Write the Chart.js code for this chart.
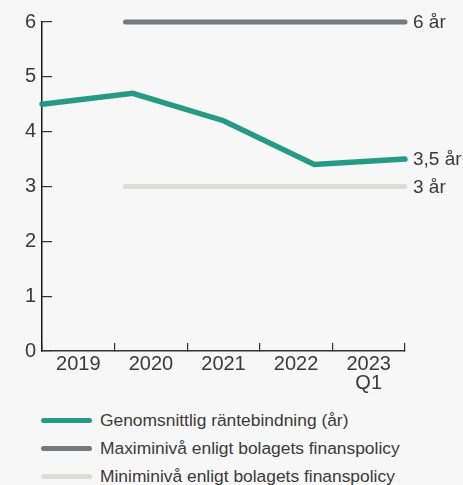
<!DOCTYPE html>
<html lang="sv">
<head>
<meta charset="utf-8">
<title>Genomsnittlig räntebindning</title>
<script src="https://cdn.jsdelivr.net/npm/chart.js@4"></script>
<style>
  body { margin: 0; background: #f7f7f7; font-family: "Liberation Sans", Arial, sans-serif; }
  #wrap { width: 463px; height: 485px; position: relative; }
  canvas { display: block; }
  #legend { position: absolute; left: 41px; top: 406px; margin: 0; padding: 0; list-style: none; }
  #legend li { height: 28px; display: flex; align-items: center; font-size: 17.4px; color: #3a3a3a; }
  #legend li span.sw { width: 51px; height: 5px; border-radius: 3px; margin-right: 8px; }
</style>
</head>
<body>
<div id="wrap">
  <canvas id="durationChart" width="463" height="400"></canvas>
  <ul id="legend"></ul>
</div>
<script>
//==============================Data============================

const categories = ['2019', '2020', '2021', '2022', ['2023', 'Q1']];

// average fixed-rate period, x given in years from start of 2019
const avgX = [0, 1.25, 2.5, 3.75, 5];
const avgValues = [4.5, 4.7, 4.2, 3.4, 3.5];

// finance policy limits
const policyX = [1.15, 5];
const maxValues = [6, 6];
const minValues = [3, 3];

const yTicks = [0, 1, 2, 3, 4, 5, 6];

const seriesNames = [
  'Genomsnittlig räntebindning (år)',
  'Maximinivå enligt bolagets finanspolicy',
  'Miniminivå enligt bolagets finanspolicy'
];

function toPoints(xs, ys) {
  return xs.map((x, i) => ({ x: x, y: ys[i] }));
}

const fontFamily = '"Liberation Sans", Arial, sans-serif';

//==============================End labels============================

const endLabels = {
  id: 'endLabels',
  afterDatasetsDraw(chart) {
    const ctx = chart.ctx;
    ctx.save();
    ctx.font = '19px ' + fontFamily;
    ctx.fillStyle = '#3a3a3a';
    ctx.textBaseline = 'middle';
    ctx.textAlign = 'left';
    chart.data.datasets.forEach((ds, i) => {
      const pts = chart.getDatasetMeta(i).data;
      const last = pts[pts.length - 1];
      const v = ds.data[ds.data.length - 1].y;
      ctx.fillText(String(v).replace('.', ',') + ' år', last.x + 8, last.y + 1);
    });
    ctx.restore();
  }
};

//==============================Chart============================

const ctx = document.getElementById('durationChart');
const axisColor = '#333';

const chart = new Chart(ctx, {
  type: 'line',
  data: {
    labels: categories,
    datasets: [{
      label: seriesNames[0],
      data: toPoints(avgX, avgValues),
      borderColor: '#269a85',
      backgroundColor: '#269a85',
      borderWidth: 5.5,
      borderCapStyle: 'round',
      xAxisID: 'xPos',
      clip: false
    }, {
      label: seriesNames[1],
      data: toPoints(policyX, maxValues),
      borderColor: '#76797b',
      backgroundColor: '#76797b',
      borderWidth: 5,
      borderCapStyle: 'round',
      xAxisID: 'xPos',
      clip: false
    }, {
      label: seriesNames[2],
      data: toPoints(policyX, minValues),
      borderColor: '#dcdcd8',
      backgroundColor: '#dcdcd8',
      borderWidth: 5,
      borderCapStyle: 'round',
      xAxisID: 'xPos',
      clip: false
    }]
  },
  options: {
    responsive: false,
    animation: false,
    layout: { padding: { top: 22, right: 58, left: 0, bottom: 0 } },
    elements: { point: { radius: 0 }, line: { tension: 0 } },
    plugins: {
      legend: { display: false },
      tooltip: { enabled: false }
    },
    scales: {
      x: {
        type: 'category',
        offset: true,
        grid: { offset: true, drawOnChartArea: false, tickLength: -8, color: axisColor, lineWidth: 1.2 },
        border: { color: axisColor, width: 1.5 },
        ticks: { color: '#3a3a3a', padding: 12, font: { size: 20, family: fontFamily, lineHeight: 0.95 }, maxRotation: 0 },
        afterFit(scale) { scale.height = 49; }
      },
      xPos: {
        type: 'linear',
        display: false,
        min: 0,
        max: 5
      },
      y: {
        min: 0,
        max: 6,
        afterBuildTicks(scale) { scale.ticks = yTicks.map(v => ({ value: v })); },
        grid: { drawOnChartArea: false, tickLength: -10, color: axisColor, lineWidth: 1.2 },
        border: { color: '#1a1a1a', width: 1.5 },
        ticks: { color: '#3a3a3a', padding: 16, font: { size: 20, family: fontFamily } },
        afterFit(scale) {
          scale.width = 42;
          scale.paddingTop = 0;
          scale.paddingBottom = 0;
        }
      }
    }
  },
  plugins: [endLabels]
});

//==============================Legend============================

const legend = document.getElementById('legend');
chart.data.datasets.forEach(ds => {
  const li = document.createElement('li');
  const sw = document.createElement('span');
  sw.className = 'sw';
  sw.style.background = ds.borderColor;
  li.appendChild(sw);
  li.appendChild(document.createTextNode(ds.label));
  legend.appendChild(li);
});
</script>
</body>
</html>
